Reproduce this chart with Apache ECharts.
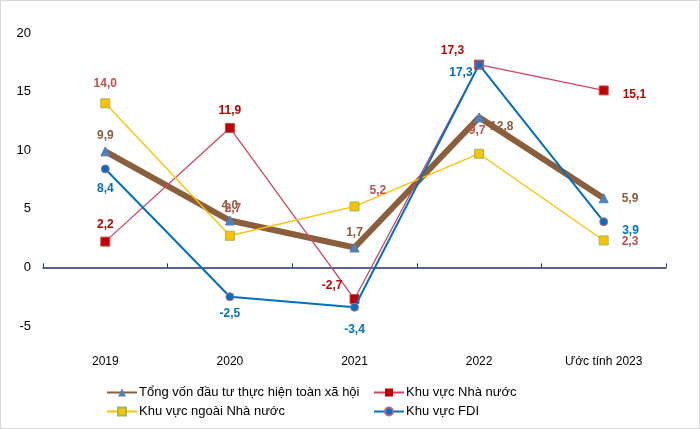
<!DOCTYPE html>
<html><head><meta charset="utf-8">
<script src="https://cdn.jsdelivr.net/npm/echarts@6/dist/echarts.min.js"></script>
<style>
html,body{margin:0;padding:0;background:#fff;}
#c{width:700px;height:429px;box-sizing:border-box;border:1px solid #d9d9d9;}
</style></head><body>
<div id="c"></div>
<script>
var categories = ['2019','2020','2021','2022','Ước tính 2023'];
var yTicks = [-5, 0, 5, 10, 15, 20];
var tongVon = [9.9, 4.0, 1.7, 12.8, 5.9];
var nhaNuoc = [2.2, 11.9, -2.7, 17.3, 15.1];
var ngoaiNhaNuoc = [14.0, 2.7, 5.2, 9.7, 2.3];
var fdi = [8.4, -2.5, -3.4, 17.3, 3.9];
var names = ['Tổng vốn đầu tư thực hiện toàn xã hội','Khu vực Nhà nước','Khu vực ngoài Nhà nước','Khu vực FDI'];

function fmt(v){ return v.toFixed(1).replace('.', ','); }
function mk(vals, labs){
  return vals.map(function(v,i){
    var l = labs[i];
    return {value:v, label:{position:l[0], distance:l[1], offset:l[2]||[0,0]}};
  });
}
var baseLabel = function(color){ return {show:true, color:color, fontWeight:'bold', fontSize:12, fontFamily:'Liberation Sans, Arial', formatter:function(p){return fmt(p.value);}}; };

var chart = echarts.init(document.getElementById('c'), null, {renderer:'canvas'});
chart.setOption({
  animation:false,
  grid:{left:42, right:33, top:32, bottom:102},
  xAxis:[{
    type:'category', data:categories, boundaryGap:true,
    axisLine:{onZero:true, lineStyle:{color:'#1f3170', width:1.5}},
    axisTick:{show:true, inside:true, length:4, lineStyle:{color:'#1f3170'}},
    axisLabel:{show:false}
  },{
    type:'category', data:categories, position:'bottom', boundaryGap:true,
    axisLine:{show:false, onZero:false}, axisTick:{show:false},
    axisLabel:{show:true, margin:30, color:'#000', fontSize:12, fontFamily:'Liberation Sans, Arial'}
  }],
  yAxis:{
    type:'value', min:yTicks[0], max:yTicks[yTicks.length-1], interval:5,
    axisLine:{show:false}, axisTick:{show:false}, splitLine:{show:false},
    axisLabel:{color:'#000', fontSize:13, margin:12, fontFamily:'Liberation Sans, Arial'}
  },
  legend:[
    {data:[names[0]], left:105, top:385},
    {data:[names[1]], left:372, top:385},
    {data:[names[2]], left:105, top:404},
    {data:[names[3]], left:372, top:404}
  ].map(function(l){ return Object.assign(l,{itemWidth:30,itemHeight:10,itemGap:4,padding:[0,0,0,0],textStyle:{color:'#000',fontSize:13,fontFamily:'Liberation Sans, Arial',padding:[0,0,0,-3]}}); }),
  series:[
    {name:names[0], type:'line', data:mk(tongVon,[['top',5],['top',4],['top',4],['right',2,[4,9]],['right',13]]),
     lineStyle:{color:'#8b5e3c', width:6}, itemStyle:{color:'#4f81bd', borderColor:'#4f81bd'},
     symbol:'triangle', symbolSize:9, label:baseLabel('#8b5e3c'), z:2},
    {name:names[1], type:'line', data:mk(nhaNuoc,[['top',6],['top',6],['left',4,[-3,-13]],['left',6,[-4,-14]],['right',14,[0,4]]]),
     lineStyle:{color:'#d0445f', width:1.3}, itemStyle:{color:'#c00000', borderColor:'#c0504d'},
     symbol:'rect', symbolSize:9, label:baseLabel('#c00000'), z:3},
    {name:names[2], type:'line', data:mk(ngoaiNhaNuoc,[['top',9],['top',16,[3,0]],['right',10,[0,-16]],['top',12,[-2,0]],['right',13,[0,1]]]),
     lineStyle:{color:'#ffc000', width:1.3}, itemStyle:{color:'#ffc000', borderColor:'#9bbb59', borderWidth:1},
     symbol:'rect', symbolSize:9, label:baseLabel('#c0504d'), z:3},
    {name:names[3], type:'line', data:mk(fdi,[['bottom',9],['bottom',6],['bottom',12],['left',2,[0,8]],['right',14,[0,9]]]),
     lineStyle:{color:'#0070c0', width:2}, itemStyle:{color:'#0070c0', borderColor:'#b6668a', borderWidth:1},
     symbol:'circle', symbolSize:8, label:baseLabel('#0070c0'), z:4}
  ]
});
</script>
</body></html>
